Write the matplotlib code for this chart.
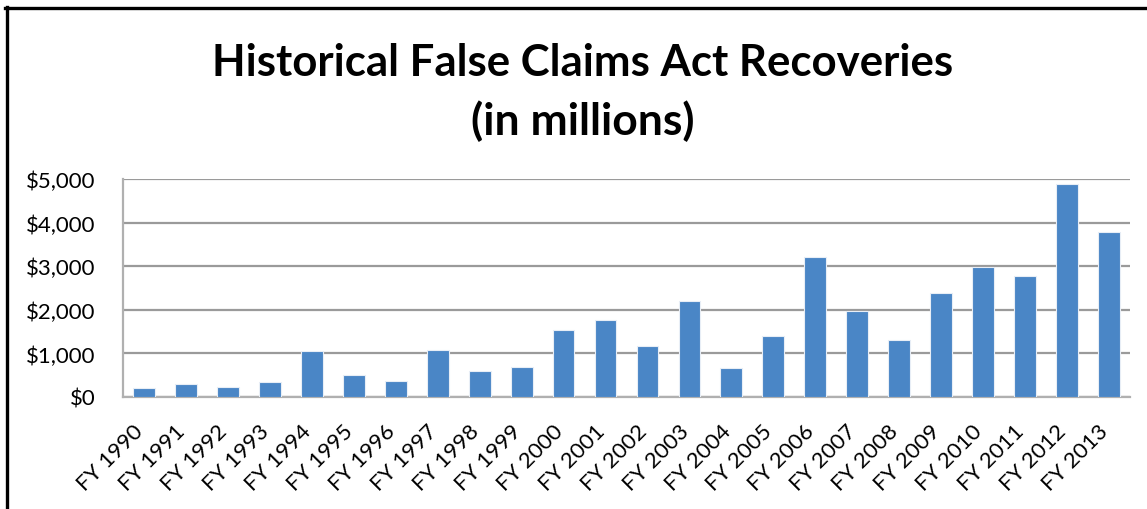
import matplotlib
matplotlib.use("Agg")
import matplotlib.pyplot as plt
from matplotlib.lines import Line2D
from matplotlib.ticker import FuncFormatter
from matplotlib.transforms import ScaledTranslation

plt.rcParams['font.family'] = ['Lato', 'DejaVu Sans']

years = ["FY 1990", "FY 1991", "FY 1992", "FY 1993", "FY 1994", "FY 1995",
         "FY 1996", "FY 1997", "FY 1998", "FY 1999", "FY 2000", "FY 2001",
         "FY 2002", "FY 2003", "FY 2004", "FY 2005", "FY 2006", "FY 2007",
         "FY 2008", "FY 2009", "FY 2010", "FY 2011", "FY 2012", "FY 2013"]
recoveries = [205, 300, 240, 335, 1058, 495, 358, 1073, 586, 685, 1545, 1766,
              1180, 2192, 654, 1408, 3204, 1971, 1309, 2374, 2990, 2785, 4878, 3775]
y_ticks = [0, 1000, 2000, 3000, 4000, 5000]

W, H = 1147, 510
fig = plt.figure(figsize=(W / 100, H / 100), dpi=100)
fig.patch.set_facecolor('white')

ax = fig.add_axes([123 / W, 1 - 398 / H, (1130 - 123) / W, (398 - 180) / H])
x = list(range(len(years)))
ax.bar(x, recoveries, width=0.52, color='#4a86c6', edgecolor='#e8eef6',
       linewidth=0.8, zorder=3)
ax.set_xlim(-0.5, len(years) - 0.5)
ax.set_ylim(0, 5000)
ax.set_yticks(y_ticks)
ax.yaxis.set_major_formatter(FuncFormatter(lambda v, p: f"${int(v):,}"))
ax.set_xticks(x)
ax.set_xticklabels(years, rotation=45, ha='right', va='center',
                   rotation_mode='anchor')
ax.tick_params(axis='both', length=0)
ax.tick_params(axis='x', labelsize=16, pad=22)
ax.tick_params(axis='y', labelsize=16, pad=20)
off = ScaledTranslation(-4 / 100, 0, fig.dpi_scale_trans)
for lab in ax.get_xticklabels():
    lab.set_transform(lab.get_transform() + off)
ax.grid(axis='y', color='#9a9a9a', linewidth=1.6, zorder=0)
for s in ['top', 'right']:
    ax.spines[s].set_visible(False)
for s in ['left', 'bottom']:
    ax.spines[s].set_color('#b0b0b0')
    ax.spines[s].set_linewidth(1.6)

fig.text(583 / W, 1 - 63 / H, "Historical False Claims Act Recoveries",
         ha='center', va='center', fontsize=31.5, fontweight='bold')
fig.text(583 / W, 1 - 121 / H, "(in millions)",
         ha='center', va='center', fontsize=32, fontweight='bold')

fig.add_artist(Line2D([5 / W, 1], [1 - 9 / H, 1 - 9 / H], color='black',
                      linewidth=2.4, transform=fig.transFigure))
fig.add_artist(Line2D([6.5 / W, 6.5 / W], [0, 1 - 8 / H], color='black',
                      linewidth=2.4, transform=fig.transFigure))

fig.savefig("out.png", dpi=100)
